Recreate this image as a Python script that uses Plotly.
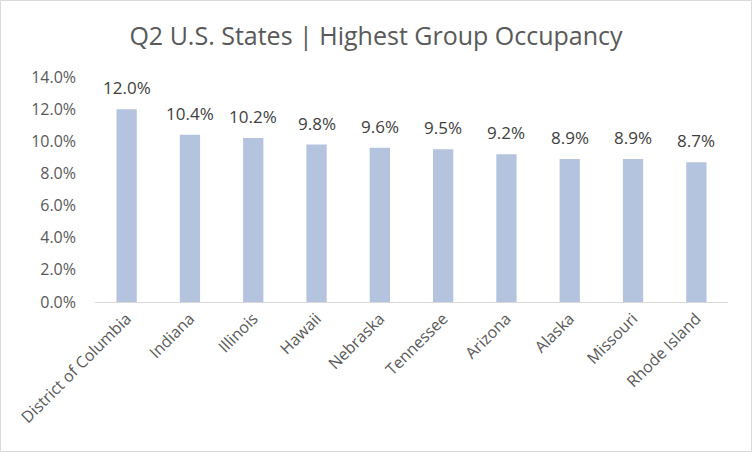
import plotly.graph_objects as go

states = ["District of Columbia", "Indiana", "Illinois", "Hawaii", "Nebraska",
          "Tennessee", "Arizona", "Alaska", "Missouri", "Rhode Island"]
occupancy = [0.120, 0.104, 0.102, 0.098, 0.096, 0.095, 0.092, 0.089, 0.089, 0.087]
tick_vals = [0.0, 0.02, 0.04, 0.06, 0.08, 0.10, 0.12, 0.14]

FONT = "Open Sans"

fig = go.Figure()
fig.add_trace(go.Bar(
    x=states, y=occupancy,
    marker=dict(color="#b4c3de", line=dict(width=0)),
    hoverinfo="skip",
))

for s, v in zip(states, occupancy):
    fig.add_annotation(x=s, y=v, text=f"{v*100:.1f}%", showarrow=False,
                       yanchor="bottom", yshift=8,
                       font=dict(family=FONT, size=17, color="#404040"))

fig.update_layout(
    width=752, height=452,
    margin=dict(l=95, r=24, t=77, b=150, autoexpand=False),
    paper_bgcolor="white", plot_bgcolor="white",
    bargap=0.68,
    showlegend=False,
    title=dict(text="Q2 U.S. States | Highest Group Occupancy",
               x=0.5, xref="container", xanchor="center",
               y=1 - 36/452, yanchor="middle",
               font=dict(family=FONT, size=25, color="#595959")),
    xaxis=dict(tickangle=-45, showline=True, linecolor="#d9d9d9", linewidth=1,
               ticks="", tickfont=dict(family=FONT, size=16, color="#595959"),
               showgrid=False),
    yaxis=dict(range=[0, 0.14], tickvals=tick_vals, tickformat=".1%",
               showgrid=False, zeroline=False, ticks="", ticklabelstandoff=18,
               tickfont=dict(family=FONT, size=16, color="#595959")),
    shapes=[dict(type="rect", xref="paper", yref="paper",
                 x0=-94.5/633, x1=1 + 23.5/633, y0=-149.5/225, y1=1 + 76.5/225,
                 line=dict(color="#d9d9d9", width=1), fillcolor="rgba(0,0,0,0)")],
)

fig.write_html("out.html", config={"displayModeBar": False},
               post_script="document.body.style.margin='0';")
